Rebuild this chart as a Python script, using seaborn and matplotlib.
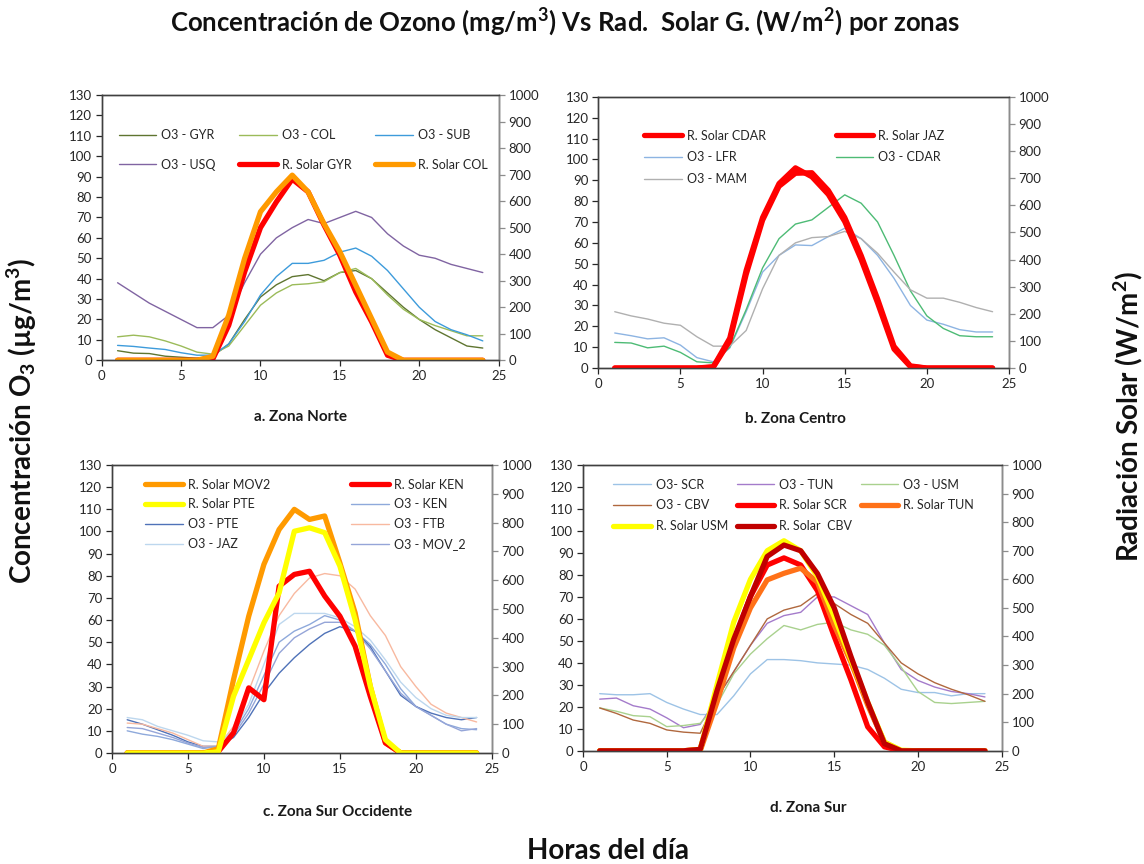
import math
import matplotlib
matplotlib.use("Agg")
import matplotlib.pyplot as plt
import seaborn as sns

# ---------------- data ----------------
hours = list(range(1, 25))

# a. Zona Norte
o3_gyr = [4.7, 3.5, 3.3, 2.0, 1.5, 1.0, 2.0, 8, 20, 31, 37, 41, 42, 39, 43, 44, 40, 33, 26, 20, 15, 11, 7, 6]
o3_col = [11.5, 12.3, 11.5, 9.5, 7, 4, 3, 7, 17, 27, 33, 37, 37.5, 38.5, 43, 45, 40, 32, 25, 20, 17, 14.5, 12, 12]
o3_sub = [7.3, 6.8, 6, 5.3, 3.7, 2.5, 2.5, 8, 19, 32, 41, 47.5, 47.5, 49, 53, 55, 51, 44, 35, 26, 19, 15, 12.5, 9.5]
o3_usq = [38, 33, 28, 24, 20, 16, 16, 22, 38, 52, 60, 65, 69, 67, 70, 73, 70, 62, 56, 51.5, 50, 47, 45, 43]
rs_gyr = [0, 0, 0, 0, 0, 0, 5, 132, 333, 500, 597, 683, 635, 510, 396, 258, 145, 19, 0, 0, 0, 0, 0, 0]
rs_col = [0, 0, 0, 0, 0, 0, 15, 170, 384, 560, 635, 698, 635, 515, 409, 283, 157, 31, 0, 0, 0, 0, 0, 0]

# b. Zona Centro
rs_cdar = [0, 0, 0, 0, 0, 0, 5, 110, 360, 555, 680, 738, 705, 640, 540, 400, 240, 70, 5, 0, 0, 0, 0, 0]
rs_jaz = [0, 0, 0, 0, 0, 0, 3, 100, 345, 545, 670, 718, 720, 655, 555, 415, 255, 80, 8, 0, 0, 0, 0, 0]
o3_lfr = [16.8, 15.5, 14, 14.5, 11, 5, 3, 9.6, 27, 46, 54, 59, 58.7, 63, 67, 62, 54, 43, 30, 23, 21, 18.4, 17.3, 17.3]
o3_cdar = [12.3, 12, 9.7, 10.5, 7.5, 3, 2.5, 10, 28, 48, 62, 69, 71, 77, 83, 79, 70, 54, 37, 25, 19, 15.5, 15, 15]
o3_mam = [27, 25, 23.5, 21.5, 20.5, 15, 10.5, 10.5, 18, 38, 54, 60, 62.5, 63, 65.5, 62, 55, 46, 37.5, 33.5, 33.5, 31.5, 29, 27]

# c. Zona Sur Occidente
rs_mov2 = [0, 0, 0, 0, 0, 0, 15, 255, 475, 655, 776, 846, 811, 823, 660, 487, 232, 35, 0, 0, 0, 0, 0, 0]
rs_ken = [0, 0, 0, 0, 0, 0, 5, 70, 226, 185, 579, 620, 631, 545, 475, 371, 197, 35, 0, 0, 0, 0, 0, 0]
rs_pte = [0, 0, 0, 0, 0, 0, 5, 197, 324, 452, 556, 770, 782, 765, 649, 463, 232, 46, 0, 0, 0, 0, 0, 0]
o3_ken = [10, 8.5, 7.5, 6, 4, 2, 3, 9, 20, 35, 50, 55, 58, 62, 60, 55, 49, 40, 29, 21, 17, 13, 11, 10.5]
o3_pte = [15, 13, 10.5, 8, 5, 3, 3, 7, 16, 27, 36, 43, 49, 54, 57, 55, 48, 37, 26, 21, 18, 16, 15, 16]
o3_ftb = [13.5, 13, 11, 9, 6, 3, 3, 12, 28, 46, 62, 72, 79, 81, 80, 74, 62, 53, 39, 30, 22, 18, 16, 14]
o3_jaz = [16, 15, 12, 10, 8, 5.5, 5, 10, 22, 40, 58, 63, 63, 63, 61, 57, 51, 42, 32, 25, 20, 17, 16, 16]
o3_mov2 = [11.5, 11, 9, 7, 4.5, 2.5, 3, 8, 18, 31, 45, 52, 56, 59, 59, 55, 47, 37, 27, 21, 17, 13, 10, 11]

# d. Zona Sur
o3_scr = [26, 25.5, 25.5, 26, 22, 19, 16.5, 16.5, 25, 35, 41.5, 41.5, 41, 40, 39.5, 39, 37, 33, 28, 26.5, 26.5, 25, 26, 26]
o3_tun = [23.5, 24, 20.5, 19, 15, 10.5, 12, 24, 36, 48, 58, 61.5, 63, 70, 70, 66, 62, 49, 37, 32, 29, 27, 26, 24.5]
o3_usm = [19.5, 18, 16, 15.5, 11, 11.5, 12.5, 21, 35, 44, 51, 57, 55, 57.5, 58.5, 55, 53, 48, 38, 27, 22, 21.5, 22, 22.5]
o3_cbv = [19.5, 17, 14, 12.5, 9.5, 8.5, 8, 24, 36, 48, 60, 64, 66, 71.5, 67, 62, 58, 49, 40, 35, 31, 28, 25.5, 22.5]
rs_scr = [0, 0, 0, 0, 0, 0, 5, 200, 380, 540, 650, 675, 650, 560, 400, 248, 84, 14, 0, 0, 0, 0, 0, 0]
rs_tun = [0, 0, 0, 0, 0, 0, 0, 170, 360, 500, 598, 621, 639, 590, 440, 310, 160, 30, 0, 0, 0, 0, 0, 0]
rs_usm = [0, 0, 0, 0, 0, 0, 5, 230, 450, 600, 700, 735, 700, 610, 470, 320, 170, 30, 2, 0, 0, 0, 0, 0]
rs_cbv = [0, 0, 0, 0, 0, 0, 5, 210, 390, 540, 680, 720, 700, 620, 500, 330, 170, 25, 0, 0, 0, 0, 0, 0]

# ---------------- style ----------------
sns.set_theme(style="white")
plt.rcParams["font.family"] = ["Lato", "DejaVu Sans"]
plt.rcParams["mathtext.default"] = "regular"

THIN, THICK = 1.0, 3.8
TICK_FS, LEG_FS = 9.5, 9

panels = [
    dict(rect=[0.0889, 0.583, 0.347, 0.307], title="a. Zona Norte", tpos=(300, 417),
         series=[("O3 - GYR", o3_gyr, "o3", "#5F7530"),
                 ("O3 - COL", o3_col, "o3", "#9BBB59"),
                 ("O3 - SUB", o3_sub, "o3", "#3D9BDB"),
                 ("O3 - USQ", o3_usq, "o3", "#8064A2"),
                 ("R. Solar GYR", rs_gyr, "rs", "#FF0000"),
                 ("R. Solar COL", rs_col, "rs", "#FF9A00")],
         ncol=3, anchor=(0.03, 0.89), colsp=1.9, lsp=1.4),
    dict(rect=[0.523, 0.574, 0.359, 0.314], title="b. Zona Centro", tpos=(795, 419),
         series=[("R. Solar CDAR", rs_cdar, "rs", "#FF0000"),
                 ("R. Solar JAZ", rs_jaz, "rs", "#FF0000"),
                 ("O3 - LFR", o3_lfr, "o3", "#8DB4E2"),
                 ("O3 - CDAR", o3_cdar, "o3", "#4DBB75"),
                 ("O3 - MAM", o3_mam, "o3", "#B0B0B0")],
         ncol=2, anchor=(0.10, 0.897), colsp=5.6, lsp=0.78),
    dict(rect=[0.0979, 0.1285, 0.332, 0.3333], title="c. Zona Sur Occidente", tpos=(338, 812),
         series=[("R. Solar MOV2", rs_mov2, "rs", "#FF9A00"),
                 ("R. Solar KEN", rs_ken, "rs", "#FF0000"),
                 ("R. Solar PTE", rs_pte, "rs", "#FFFF00"),
                 ("O3 - KEN", o3_ken, "o3", "#8EA9DB"),
                 ("O3 - PTE", o3_pte, "o3", "#4F72B8"),
                 ("O3 - FTB", o3_ftb, "o3", "#F8B9A0"),
                 ("O3 - JAZ", o3_jaz, "o3", "#BDD7EE"),
                 ("O3 - MOV_2", o3_mov2, "o3", "#95A5D8")],
         ncol=2, anchor=(0.075, 0.97), colsp=6.5, lsp=0.62),
    dict(rect=[0.5096, 0.131, 0.366, 0.3308], title="d. Zona Sur", tpos=(808, 808),
         series=[("O3- SCR", o3_scr, "o3", "#9DC3E6"),
                 ("O3 - TUN", o3_tun, "o3", "#A47BCB"),
                 ("O3 - USM", o3_usm, "o3", "#A9D18E"),
                 ("O3 - CBV", o3_cbv, "o3", "#B0683E"),
                 ("R. Solar SCR", rs_scr, "rs", "#FF0000"),
                 ("R. Solar TUN", rs_tun, "rs", "#FF7118"),
                 ("R. Solar USM", rs_usm, "rs", "#FFFF00"),
                 ("R. Solar  CBV", rs_cbv, "rs", "#C00000")],
         ncol=3, anchor=(0.06, 0.97), colsp=0.7, lsp=0.7),
]

W, H = 1144, 864
fig = plt.figure(figsize=(W / 100, H / 100), dpi=100)


def colmajor(items, ncol):
    n = len(items)
    nrow = math.ceil(n / ncol)
    out = []
    for c in range(ncol):
        for r in range(nrow):
            i = r * ncol + c
            if i < n:
                out.append(items[i])
    return out


for p in panels:
    ax = fig.add_axes(p["rect"])
    ax2 = ax.twinx()
    handles = []
    for lab, vals, kind, col in p["series"]:
        target = ax if kind == "o3" else ax2
        lw = THIN if kind == "o3" else THICK
        sns.lineplot(x=hours, y=vals, ax=target, color=col, linewidth=lw,
                     label=lab, legend=False, solid_capstyle="round",
                     solid_joinstyle="round")
        handles.append((target.get_lines()[-1], lab))
    for a in (ax, ax2):
        if a.get_legend() is not None:
            a.get_legend().remove()
    ax.set_xlim(0, 25)
    ax.set_ylim(0, 130)
    ax2.set_ylim(0, 1000)
    ax.set_xticks(range(0, 26, 5))
    ax.set_yticks(range(0, 131, 10))
    ax2.set_yticks(range(0, 1001, 100))
    ax.set_xlabel("")
    ax.set_ylabel("")
    ax2.set_ylabel("")
    for a in (ax, ax2):
        for s in a.spines.values():
            s.set_visible(True)
            s.set_linewidth(1.0)
            s.set_color("#404040")
    ax2.spines["right"].set_color("#8C8C8C")
    ax.tick_params(axis="both", which="both", direction="out", length=4, width=0.9,
                   labelsize=TICK_FS, colors="#262626", left=True, bottom=True, pad=3)
    ax2.tick_params(axis="y", direction="out", length=4, width=0.9, labelsize=TICK_FS,
                    colors="#262626", right=True, pad=3)
    ax2.tick_params(axis="y", color="#8C8C8C")
    ax.grid(False)
    ax2.grid(False)
    ordered = colmajor(handles, p["ncol"])
    leg = ax2.legend([h for h, _ in ordered], [l for _, l in ordered],
                     loc="upper left", bbox_to_anchor=p["anchor"], ncol=p["ncol"],
                     frameon=False, fontsize=LEG_FS, handlelength=3.0, handletextpad=0.4,
                     labelspacing=p["lsp"], columnspacing=p["colsp"], borderaxespad=0)
    leg.set_zorder(10)
    fig.text(p["tpos"][0] / W, 1 - p["tpos"][1] / H, p["title"], ha="center", va="center",
             fontsize=11, fontweight="bold", color="#1a1a1a")

fig.text(565 / W, 1 - 22 / H,
         "Concentración de Ozono (mg/m$^3$) Vs Rad.  Solar G. (W/m$^2$) por zonas",
         ha="center", va="center", fontsize=18.5, fontweight="bold", color="#111111")
fig.text(22 / W, 1 - 421 / H, "Concentración O$_3$ (µg/m$^3$)", rotation=90,
         ha="center", va="center", fontsize=20, fontweight="bold", color="#111111")
fig.text(1128 / W, 1 - 417 / H, "Radiación Solar (W/m$^2$)", rotation=90,
         ha="center", va="center", fontsize=20, fontweight="bold", color="#111111")
fig.text(608 / W, 1 - 851 / H, "Horas del día", ha="center", va="center",
         fontsize=20, fontweight="bold", color="#111111")

fig.savefig("out.png", dpi=100)
